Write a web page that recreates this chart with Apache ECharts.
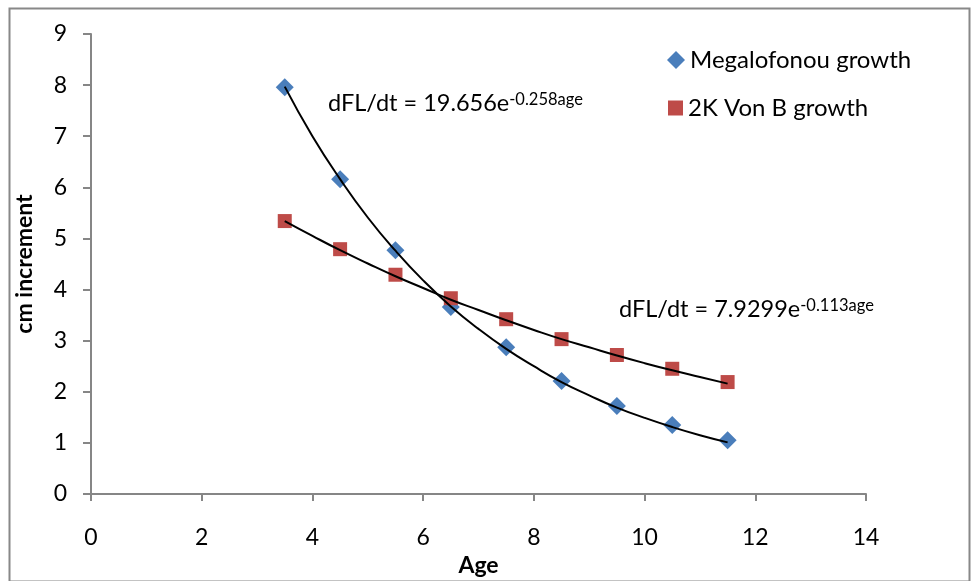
<!DOCTYPE html>
<html><head><meta charset="utf-8">
<script src="https://cdn.jsdelivr.net/npm/echarts@6/dist/echarts.min.js"></script>
<style>html,body{margin:0;padding:0;background:#fff}#c{width:971px;height:581px}</style>
</head><body><div id="c"></div>
<script>
var ages = [3.5, 4.5, 5.5, 6.5, 7.5, 8.5, 9.5, 10.5, 11.5];
var megalofonou = [7.96, 6.16, 4.77, 3.66, 2.87, 2.21, 1.72, 1.35, 1.05];
var vonB = [5.34, 4.79, 4.29, 3.83, 3.42, 3.03, 2.72, 2.45, 2.19];
var trendAges = [3.5, 4, 4.5, 5, 5.5, 6, 6.5, 7, 7.5, 8, 8.5, 9, 9.5, 10, 10.5, 11, 11.5];
var megaTrend = [7.97, 7.00, 6.16, 5.41, 4.76, 4.18, 3.67, 3.23, 2.84, 2.50, 2.19, 1.93, 1.69, 1.49, 1.31, 1.15, 1.01];
var vonBTrend = [5.34, 5.05, 4.77, 4.51, 4.26, 4.03, 3.80, 3.60, 3.40, 3.21, 3.03, 2.87, 2.71, 2.56, 2.42, 2.29, 2.16];
var seriesNames = ['Megalofonou growth', '2K Von B growth'];
var eq1 = ['dFL/dt = 19.656e', '-0.258age'];
var eq2 = ['dFL/dt = 7.9299e', '-0.113age'];

function pairs(xs, ys) { return xs.map(function (x, i) { return [x, ys[i]]; }); }

var font = 'Lato';
var axisColor = '#868686';
var legendText = { fontFamily: font, fontSize: 24, color: '#000' };
var rich = {
  m: { fontFamily: font, fontSize: 23.5, fill: '#000', verticalAlign: 'bottom' },
  s: { fontFamily: font, fontSize: 16.5, fill: '#000', verticalAlign: 'top' }
};
var chart = echarts.init(document.getElementById('c'));
chart.setOption({
  backgroundColor: '#fff',
  animation: false,
  textStyle: { fontFamily: font, color: '#000' },
  grid: { left: 91, right: 105, top: 34, bottom: 87, containLabel: false, outerBoundsMode: 'none' },
  legend: [
    {
      orient: 'vertical', left: 662, top: 43, itemGap: 0,
      itemWidth: 18, itemHeight: 18, itemTextGap: 6,
      textStyle: legendText,
      data: [{ name: seriesNames[0], icon: 'diamond' }]
    },
    {
      orient: 'vertical', left: 663, top: 91, itemGap: 0,
      itemWidth: 15, itemHeight: 15, itemTextGap: 8,
      textStyle: legendText,
      data: [{ name: seriesNames[1], icon: 'rect' }]
    }
  ],
  xAxis: {
    type: 'value', min: 0, max: 14, interval: 2,
    name: 'Age', nameLocation: 'middle', nameGap: 54,
    nameTextStyle: { fontFamily: font, fontSize: 23, fontWeight: 'bold', color: '#000' },
    axisLine: { show: true, lineStyle: { color: axisColor, width: 2 } },
    axisTick: { show: true, length: 7, lineStyle: { color: axisColor, width: 2 } },
    axisLabel: { fontFamily: font, fontSize: 23, color: '#000', margin: 32 },
    splitLine: { show: false }
  },
  yAxis: {
    type: 'value', min: 0, max: 9, interval: 1,
    name: 'cm increment', nameLocation: 'middle', nameGap: 55,
    nameTextStyle: { fontFamily: font, fontSize: 23, fontWeight: 'bold', color: '#000' },
    axisLine: { show: true, lineStyle: { color: axisColor, width: 2 } },
    axisTick: { show: true, length: 8, lineStyle: { color: axisColor, width: 2 } },
    axisLabel: { fontFamily: font, fontSize: 23, color: '#000', margin: 24 },
    splitLine: { show: false }
  },
  series: [
    {
      name: 'trend1', type: 'line', data: pairs(trendAges, megaTrend), smooth: true,
      showSymbol: false, symbol: 'none', lineStyle: { color: '#000', width: 2 }, z: 3, silent: true
    },
    {
      name: 'trend2', type: 'line', data: pairs(trendAges, vonBTrend), smooth: true,
      showSymbol: false, symbol: 'none', lineStyle: { color: '#000', width: 2 }, z: 3, silent: true
    },
    {
      name: seriesNames[0], type: 'scatter', data: pairs(ages, megalofonou),
      symbol: 'diamond', symbolSize: [18, 18], itemStyle: { color: '#4A7EBB', opacity: 1 }, z: 2
    },
    {
      name: seriesNames[1], type: 'scatter', data: pairs(ages, vonB),
      symbol: 'rect', symbolSize: [14, 14], itemStyle: { color: '#BE4B48', opacity: 1 }, z: 2
    }
  ],
  graphic: [
    {
      type: 'rect', left: 7, top: 6, shape: { width: 960, height: 573 },
      style: { fill: 'none', stroke: '#888', lineWidth: 2 }, z: 0, silent: true
    },
    {
      type: 'text', left: 328, top: 91, z: 10,
      style: { text: '{m|' + eq1[0] + '}{s|' + eq1[1] + '}', rich: rich }
    },
    {
      type: 'text', left: 619, top: 297, z: 10,
      style: { text: '{m|' + eq2[0] + '}{s|' + eq2[1] + '}', rich: rich }
    }
  ]
});
</script></body></html>
